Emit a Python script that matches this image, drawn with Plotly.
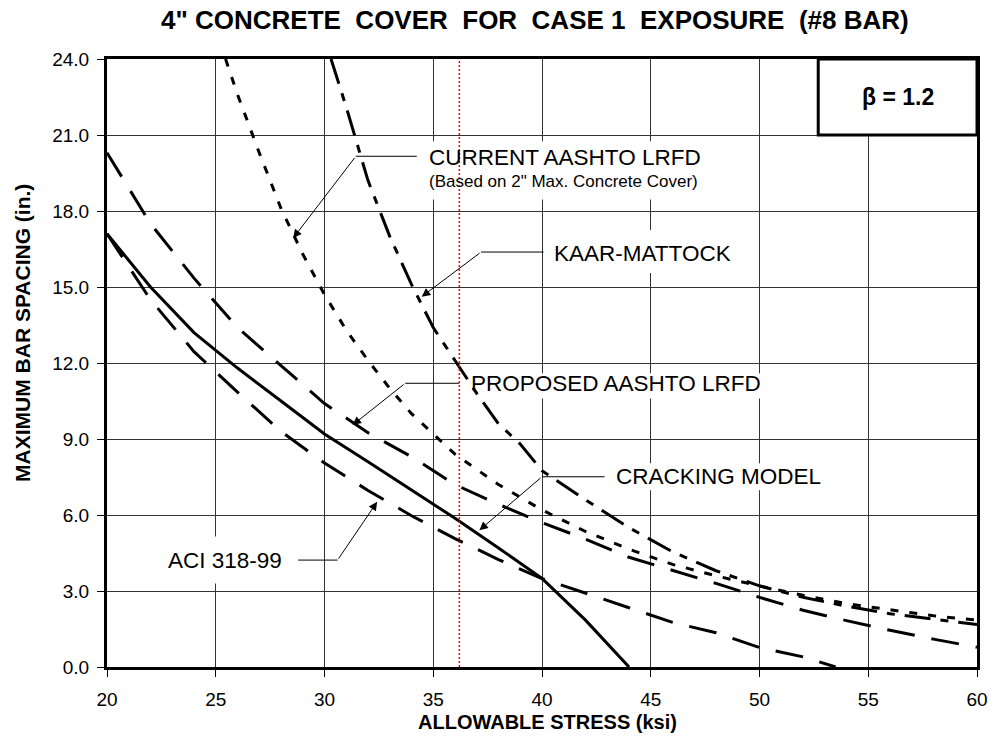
import plotly.graph_objects as go

# ---------------- data ----------------
stress_crack = [20, 22, 24, 26, 28, 30, 32, 34, 36, 38, 40, 42, 44]
spacing_crack = [17.1, 15.0, 13.2, 11.8, 10.5, 9.2, 8.1, 7.0, 5.87, 4.7, 3.5, 1.85, 0.0]

stress_aci = [20, 22, 24, 26, 28, 30, 32, 34, 36, 38, 40, 42, 44, 46, 48, 50, 52, 53.5]
spacing_aci = [17.1, 14.5, 12.45, 10.85, 9.3, 8.05, 6.97, 5.97, 5.07, 4.24, 3.49, 2.93,
               2.34, 1.76, 1.35, 0.77, 0.4, 0.0]

stress_prop = [20, 22, 24, 26, 28, 30, 32, 34, 36, 38, 40, 42, 44, 46, 48, 50, 52, 54, 56, 58, 60]
spacing_prop = [20.3, 17.5, 15.35, 13.4, 11.9, 10.4, 9.25, 8.3, 7.2, 6.42, 5.7, 5.05, 4.33,
                3.82, 3.3, 2.75, 2.24, 1.83, 1.45, 1.1, 0.78]

stress_curr = [25.45, 26, 27, 28, 29, 30, 31, 32, 33, 34, 35, 36, 38, 40, 42, 44, 46, 48,
               50, 52, 54, 56, 58, 60]
spacing_curr = [24.0, 22.6, 20.3, 18.1, 16.3, 14.7, 13.3, 12.1, 11.0, 10.0, 9.2, 8.4, 7.2,
                6.2, 5.35, 4.65, 4.05, 3.6, 3.2, 2.83, 2.5, 2.25, 2.02, 1.85]

stress_km = [30.3, 31, 32, 33, 34, 35, 36, 37, 38, 39, 40, 42, 44, 46, 48, 50, 52, 54, 56, 58, 60]
spacing_km = [24.0, 22.1, 19.2, 17.0, 15.1, 13.4, 12.1, 10.8, 9.6, 8.8, 7.75, 6.6, 5.5, 4.55,
              3.8, 3.2, 2.75, 2.4, 2.1, 1.88, 1.68]

limit_stress = [36.2, 36.2]
limit_span = [0, 24]

x_ticks = [20, 25, 30, 35, 40, 45, 50, 55, 60]
y_ticks = [0, 3, 6, 9, 12, 15, 18, 21, 24]

title_text = '4" CONCRETE  COVER  FOR  CASE 1  EXPOSURE  (#8 BAR)'
x_title = "ALLOWABLE STRESS (ksi)"
y_title = "MAXIMUM BAR SPACING (in.)"
beta_text = "β = 1.2"

# label, text x, text y, anchor, tip x, tip y, knee x, knee y, leader end x
labels = [
    ("CURRENT AASHTO LRFD", 34.7, 20.13, "left", 28.56, 16.93, 31.44, 20.16, 34.24),
    ("KAAR-MATTOCK", 40.45, 16.34, "left", 34.47, 14.62, 37.2, 16.38, 40.07),
    ("PROPOSED AASHTO LRFD", 36.65, 11.21, "left", 31.29, 9.55, 33.71, 11.2, 36.2),
    ("CRACKING MODEL", 43.3, 7.51, "left", 37.12, 5.4, 40.0, 7.51, 42.88),
    ("ACI 318-99", 28.15, 4.22, "right", 32.42, 6.52, 30.6, 4.22, 28.79),
]
label_boxes = [
    (34.5, 47.5, 18.45, 20.75),
    (40.3, 48.9, 15.55, 17.25),
    (36.5, 50.3, 10.6, 11.6),
    (43.1, 53.0, 6.98, 8.04),
    (22.7, 28.4, 3.3, 5.15),
]
FONT = "Arial, Liberation Sans, sans-serif"

fig = go.Figure()

def add_line(x, y, dash, width=3):
    fig.add_trace(go.Scatter(x=x, y=y, mode="lines",
                             line=dict(color="black", width=width, dash=dash),
                             hoverinfo="skip", showlegend=False))

add_line(stress_curr, spacing_curr, "8px,11px")
add_line(stress_km, spacing_km, "26px,10px,8px,10px")
add_line(stress_prop, spacing_prop, "28px,17px")
add_line(stress_aci, spacing_aci, "28px,17px")
add_line(stress_crack, spacing_crack, "solid")
fig.add_trace(go.Scatter(x=limit_stress, y=limit_span, mode="lines",
                         line=dict(color="red", width=1.5, dash="2px,2px"),
                         hoverinfo="skip", showlegend=False))

shapes = []
for (x0, x1, y0, y1) in label_boxes:
    shapes.append(dict(type="rect", xref="x", yref="y", x0=x0, x1=x1, y0=y0, y1=y1,
                       fillcolor="white", line=dict(width=0), layer="between"))
for (txt, tx, ty, anc, px, py, kx, ky, ex) in labels:
    shapes.append(dict(type="line", xref="x", yref="y", x0=kx, x1=ex, y0=ky, y1=ky,
                       line=dict(color="black", width=1), layer="above"))
# beta box
shapes.append(dict(type="rect", xref="x", yref="y", x0=52.7, x1=60, y0=21, y1=24,
                   fillcolor="white", line=dict(color="black", width=3), layer="above"))

annotations = []
for (txt, tx, ty, anc, px, py, kx, ky, ex) in labels:
    annotations.append(dict(x=px, y=py, ax=kx, ay=ky, xref="x", yref="y", axref="x", ayref="y",
                            text="", showarrow=True, arrowhead=2, arrowsize=1.7, arrowwidth=1,
                            arrowcolor="black", standoff=0))
    annotations.append(dict(x=tx, y=ty, xref="x", yref="y", text=txt, showarrow=False,
                            xanchor=anc, yanchor="middle",
                            font=dict(family=FONT, size=22.5, color="black")))
annotations.append(dict(x=34.7, y=19.17, xref="x", yref="y",
                        text='(Based on 2" Max. Concrete Cover)', showarrow=False,
                        xanchor="left", yanchor="middle",
                        font=dict(family=FONT, size=17, color="black")))
annotations.append(dict(x=56.35, y=22.5, xref="x", yref="y", text="<b>" + beta_text + "</b>",
                        showarrow=False, xanchor="center", yanchor="middle",
                        font=dict(family=FONT, size=23, color="black")))
# titles
annotations.append(dict(x=0.4915, y=1.0636, xref="paper", yref="paper", text="<b>" + title_text + "</b>",
                        showarrow=False, xanchor="center", yanchor="middle",
                        font=dict(family=FONT, size=26, color="black")))
annotations.append(dict(x=0.5068, y=-0.0905, xref="paper", yref="paper", text="<b>" + x_title + "</b>",
                        showarrow=False, xanchor="center", yanchor="middle",
                        font=dict(family=FONT, size=20, color="black")))
annotations.append(dict(x=-0.0969, y=0.549, xref="paper", yref="paper", text="<b>" + y_title + "</b>",
                        showarrow=False, xanchor="center", yanchor="middle", textangle=-90,
                        font=dict(family=FONT, size=21, color="black")))

fig.update_layout(
    width=1000, height=752,
    margin=dict(l=107, r=13, t=59, b=85),
    paper_bgcolor="white", plot_bgcolor="white",
    showlegend=False, hovermode=False,
    shapes=shapes, annotations=annotations,
    font=dict(family=FONT, color="black"),
)
fig.update_xaxes(range=[20, 60], tickvals=x_ticks, ticktext=[str(v) for v in x_ticks],
                 showgrid=True, gridcolor="#333", gridwidth=1,
                 showline=True, linecolor="black", linewidth=3, mirror=True,
                 ticks="outside", ticklen=7, tickcolor="black", tickwidth=1,
                 ticklabelstandoff=6,
                 tickfont=dict(family=FONT, size=19, color="black"), zeroline=False)
fig.update_yaxes(range=[0, 24], tickvals=y_ticks, ticktext=[f"{v:.1f}" for v in y_ticks],
                 showgrid=True, gridcolor="#333", gridwidth=1,
                 showline=True, linecolor="black", linewidth=3, mirror=True,
                 ticks="outside", ticklen=7, tickcolor="black", tickwidth=1,
                 ticklabelstandoff=4,
                 tickfont=dict(family=FONT, size=19, color="black"), zeroline=False)

fig.write_html("out.html", config={"displayModeBar": False},
               post_script="document.body.style.margin='0px';document.body.style.overflow='hidden';")
